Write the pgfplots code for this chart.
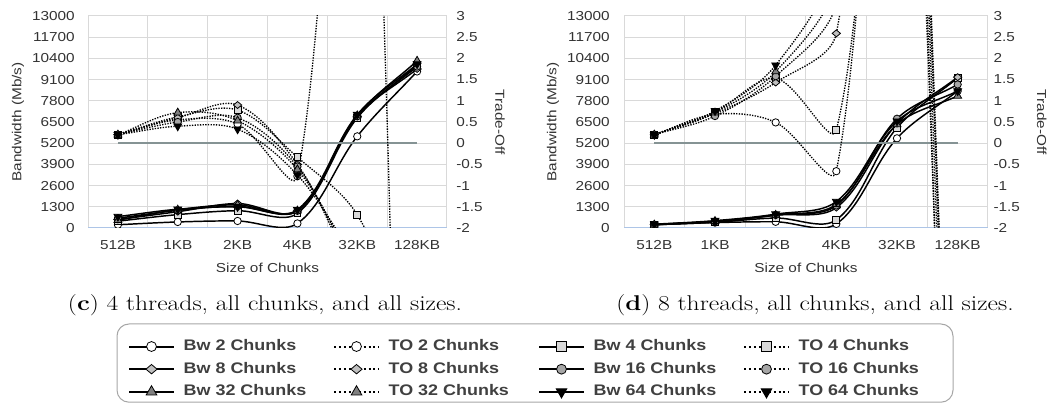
\documentclass[border=0pt]{standalone}
\usepackage{fontspec}
\usepackage{pgfplots}
\pgfplotsset{compat=1.18}
\setmainfont{Liberation Sans}
\newfontfamily\chartfont[FakeStretch=1.18]{Liberation Sans}
\newfontfamily\legfont[FakeStretch=1.17]{Liberation Sans}
\newfontfamily\capfont[FakeStretch=1.2]{Latin Modern Roman}

\definecolor{gridc}{HTML}{D9D9D9}
\definecolor{axblue}{HTML}{ADC5E7}
\definecolor{zeroc}{HTML}{859394}
\definecolor{txt}{HTML}{333333}
\definecolor{legc}{HTML}{404040}
\definecolor{framec}{HTML}{A6A6A6}
\definecolor{sqc}{HTML}{D9D9D9}
\definecolor{diac}{HTML}{BFBFBF}
\definecolor{circc}{HTML}{A6A6A6}
\definecolor{tric}{HTML}{808080}

% Excel-like smoothing plot handler
\makeatletter
\newcount\xls@n
\newcount\xls@i
\def\pgfplothandlerexcel{%
  \def\pgf@plotstreamstart{%
    \global\xls@n=0\relax
    \global\let\pgf@plotstreampoint\xls@point
    \global\let\pgf@plotstreamspecial\pgfutil@gobble
    \global\let\pgf@plotstreamend\xls@end
  }%
}
\def\xls@val#1#2{\csname xls@#1@\number#2\endcsname}
\def\xls@point#1{%
  \pgf@process{#1}%
  \global\advance\xls@n by 1\relax
  \expandafter\xdef\csname xls@x@\the\xls@n\endcsname{\pgf@sys@tonumber\pgf@x}%
  \expandafter\xdef\csname xls@y@\the\xls@n\endcsname{\pgf@sys@tonumber\pgf@y}%
}
\def\xls@end{%
  \ifnum\xls@n>0\relax
    \pgfpathmoveto{\pgfqpoint{\xls@val{x}{1}pt}{\xls@val{y}{1}pt}}%
    \xls@i=1\relax
    \xls@loop
  \fi
}
\def\xls@loop{%
  \ifnum\xls@i<\xls@n\relax
    \xls@segment
    \advance\xls@i by 1\relax
    \expandafter\xls@loop
  \fi
}
\def\xls@segment{%
  \count@=\xls@i \advance\count@ by -1\relax
  \ifnum\count@<1\relax \count@=1\relax\fi
  \edef\xls@A{\the\count@}%
  \edef\xls@B{\the\xls@i}%
  \count@=\xls@i \advance\count@ by 1\relax
  \edef\xls@C{\the\count@}%
  \advance\count@ by 1\relax
  \ifnum\count@>\xls@n \count@=\xls@n\fi
  \edef\xls@D{\the\count@}%
  \edef\xls@xa{\xls@val{x}{\xls@A}}\edef\xls@ya{\xls@val{y}{\xls@A}}%
  \edef\xls@xb{\xls@val{x}{\xls@B}}\edef\xls@yb{\xls@val{y}{\xls@B}}%
  \edef\xls@xc{\xls@val{x}{\xls@C}}\edef\xls@yc{\xls@val{y}{\xls@C}}%
  \edef\xls@xd{\xls@val{x}{\xls@D}}\edef\xls@yd{\xls@val{y}{\xls@D}}%
  \pgfmathparse{veclen(0.1*((\xls@xb)-(\xls@xa)),0.1*((\xls@yb)-(\xls@ya)))}\let\xls@dab\pgfmathresult
  \pgfmathparse{veclen(0.1*((\xls@xc)-(\xls@xb)),0.1*((\xls@yc)-(\xls@yb)))}\let\xls@dbc\pgfmathresult
  \pgfmathparse{veclen(0.1*((\xls@xd)-(\xls@xc)),0.1*((\xls@yd)-(\xls@yc)))}\let\xls@dcd\pgfmathresult
  \pgfmathparse{0.333333*\xls@dbc/(\xls@dab+\xls@dbc)}\let\xls@fa\pgfmathresult
  \pgfmathparse{0.333333*\xls@dbc/(\xls@dbc+\xls@dcd)}\let\xls@fb\pgfmathresult
  \pgfmathparse{(\xls@xb)+((\xls@xc)-(\xls@xa))*\xls@fa}\let\xls@cax\pgfmathresult
  \pgfmathparse{(\xls@yb)+((\xls@yc)-(\xls@ya))*\xls@fa}\let\xls@cay\pgfmathresult
  \pgfmathparse{(\xls@xc)-((\xls@xd)-(\xls@xb))*\xls@fb}\let\xls@cbx\pgfmathresult
  \pgfmathparse{(\xls@yc)-((\xls@yd)-(\xls@yb))*\xls@fb}\let\xls@cby\pgfmathresult
  \pgfpathcurveto{\pgfqpoint{\xls@cax pt}{\xls@cay pt}}{\pgfqpoint{\xls@cbx pt}{\xls@cby pt}}{\pgfqpoint{\xls@xc pt}{\xls@yc pt}}%
}
\tikzset{excel smooth/.code={\let\tikz@plot@handler=\pgfplothandlerexcel}}
\makeatother

\pgfplotsset{
  bw/.style={black, line width=1.1pt, solid, excel smooth},
  to/.style={black, line width=1pt, dash pattern=on 1pt off 1pt, excel smooth},
  bwl/.style={black, line width=1.5pt, solid},
  tol/.style={black, line width=1.5pt, dash pattern=on 1.5pt off 2.2pt},
  mk2/.style={mark=*, mark size=2.75pt, mark options={solid, fill=white, draw=black, line width=0.6pt}},
  mk4/.style={mark=square*, mark size=2.6pt, mark options={solid, fill=sqc, draw=black, line width=0.6pt}},
  mk8/.style={mark=diamond*, mark size=2.6pt, mark options={solid, fill=diac, draw=black, line width=0.6pt, xscale=1.6}},
  mk16/.style={mark=*, mark size=2.75pt, mark options={solid, fill=circc, draw=black, line width=0.6pt}},
  mk32/.style={mark=triangle*, mark size=3.4pt, mark options={solid, fill=tric, draw=black, line width=0.6pt}},
  mk64/.style={mark=triangle*, mark size=3.4pt, mark options={solid, fill=black, draw=black, line width=0.6pt, rotate=180}},
  chartbase/.style={scale only axis, height=159pt, xmin=0, xmax=6, anchor=south west,
     clip marker paths=true,
     tick label style={font=\chartfont\fontsize{9.75pt}{11pt}\selectfont, text=txt, inner sep=0pt},
     label style={font=\chartfont\fontsize{9.75pt}{11pt}\selectfont, text=txt, inner sep=0pt},
     major tick length=0pt, minor tick length=0pt},
  leftax/.style={chartbase, ymin=0, ymax=13000, scaled y ticks=false,
     xtick={0.5,1.5,2.5,3.5,4.5,5.5}, xticklabels={512B,1KB,2KB,4KB,32KB,128KB},
     minor xtick={0,1,2,3,4,5,6},
     ytick={0,1300,2600,3900,5200,6500,7800,9100,10400,11700,13000},
     yticklabels={0,1300,2600,3900,5200,6500,7800,9100,10400,11700,13000},
     xminorgrids=true, ymajorgrids=true, xmajorgrids=false,
     major grid style={draw=gridc, line width=0.75pt},
     minor grid style={draw=gridc, line width=0.75pt},
     axis x line*=bottom, axis y line*=left,
     x axis line style={draw=axblue, line width=0.75pt, -},
     y axis line style={draw=none},
     xticklabel style={anchor=north, yshift=-9pt},
     xlabel={Size of Chunks}, ylabel={Bandwidth (Mb/s)},
     xlabel style={at={(axis description cs:0.5,0)}, anchor=north, yshift=-26.25pt},
     ylabel style={at={(axis description cs:-0.195,0.5)}, anchor=center}},
  rightax/.style={chartbase, ymin=-2, ymax=3, axis x line=none, axis y line*=right,
     y axis line style={draw=none}, scaled y ticks=false,
     ytick={-2,-1.5,-1,-0.5,0,0.5,1,1.5,2,2.5,3},
     yticklabels={-2,-1.5,-1,-0.5,0,0.5,1,1.5,2,2.5,3},
     ylabel={Trade-Off},
     ylabel style={at={(axis description cs:1.148,0.5)}, anchor=center, rotate=180}},
}

\begin{document}
\begin{tikzpicture}
\useasboundingbox (0,0) rectangle (788.25pt,302.25pt);

% ---------------- (c) 4 threads ----------------
\begin{axis}[leftax, at={(66pt,131.25pt)}, width=269.25pt,
  yticklabel style={anchor=east, xshift=-9.75pt}]
\addplot[bw, mk2] coordinates {(0.5,200)(1.5,370)(2.5,430)(3.5,280)(4.5,5620)(5.5,9600)};
\addplot[bw, mk4] coordinates {(0.5,420)(1.5,820)(2.5,1060)(3.5,900)(4.5,6750)(5.5,10000)};
\addplot[bw, mk8] coordinates {(0.5,520)(1.5,1000)(2.5,1500)(3.5,1050)(4.5,6850)(5.5,9750)};
\addplot[bw, mk16] coordinates {(0.5,600)(1.5,1080)(2.5,1330)(3.5,1060)(4.5,6850)(5.5,9900)};
\addplot[bw, mk32] coordinates {(0.5,480)(1.5,1120)(2.5,1420)(3.5,1060)(4.5,6900)(5.5,10250)};
\addplot[bw, mk64] coordinates {(0.5,700)(1.5,1150)(2.5,1300)(3.5,1120)(4.5,6950)(5.5,10050)};
\end{axis}
\begin{axis}[rightax, at={(66pt,131.25pt)}, width=269.25pt,
  yticklabel style={anchor=west, xshift=6.75pt}]
\addplot[zeroc, line width=1.5pt, sharp plot, no marks] coordinates {(0.5,0)(1.5,0)(2.5,0)(3.5,0)(4.5,0)(5.5,0)};
\addplot[to, mk2] coordinates {(0.5,0.2)(1.5,0.55)(2.5,0.45)(3.5,-0.78)(4.5,15)(5.5,-25)};
\addplot[to, mk4] coordinates {(0.5,0.2)(1.5,0.62)(2.5,0.78)(3.5,-0.33)(4.5,-1.69)(5.5,-5)};
\addplot[to, mk8] coordinates {(0.5,0.2)(1.5,0.6)(2.5,0.9)(3.5,-0.5)(4.5,-3.0)(5.5,-4)};
\addplot[to, mk16] coordinates {(0.5,0.2)(1.5,0.5)(2.5,0.6)(3.5,-0.55)(4.5,-2.9)(5.5,-4)};
\addplot[to, mk32] coordinates {(0.5,0.2)(1.5,0.72)(2.5,0.53)(3.5,-0.62)(4.5,-2.8)(5.5,-4)};
\addplot[to, mk64] coordinates {(0.5,0.2)(1.5,0.4)(2.5,0.33)(3.5,-0.75)(4.5,-2.7)(5.5,-4)};
\end{axis}

% ---------------- (d) 8 threads ----------------
\begin{axis}[leftax, at={(468pt,131.25pt)}, width=273pt,
  yticklabel style={anchor=east, xshift=-10.5pt}]
\addplot[bw, mk2] coordinates {(0.5,200)(1.5,330)(2.5,380)(3.5,250)(4.5,5500)(5.5,8400)};
\addplot[bw, mk4] coordinates {(0.5,200)(1.5,350)(2.5,610)(3.5,500)(4.5,6150)(5.5,9200)};
\addplot[bw, mk8] coordinates {(0.5,220)(1.5,400)(2.5,780)(3.5,1250)(4.5,6400)(5.5,9250)};
\addplot[bw, mk16] coordinates {(0.5,200)(1.5,400)(2.5,800)(3.5,1380)(4.5,6700)(5.5,8800)};
\addplot[bw, mk32] coordinates {(0.5,200)(1.5,420)(2.5,800)(3.5,1450)(4.5,6350)(5.5,8100)};
\addplot[bw, mk64] coordinates {(0.5,230)(1.5,450)(2.5,850)(3.5,1620)(4.5,6550)(5.5,8400)};
\end{axis}
\begin{axis}[rightax, at={(468pt,131.25pt)}, width=273pt,
  yticklabel style={anchor=west, xshift=4pt}]
\addplot[zeroc, line width=1.5pt, sharp plot, no marks] coordinates {(0.5,0)(1.5,0)(2.5,0)(3.5,0)(4.5,0)(5.5,0)};
\addplot[to, mk2] coordinates {(0.5,0.2)(1.5,0.68)(2.5,0.49)(3.5,-0.66)(4.5,15)(5.5,-15)};
\addplot[to, mk4] coordinates {(0.5,0.2)(1.5,0.74)(2.5,1.53)(3.5,0.31)(4.5,13)(5.5,-16)};
\addplot[to, mk8] coordinates {(0.5,0.2)(1.5,0.70)(2.5,1.43)(3.5,2.59)(4.5,16)(5.5,-13)};
\addplot[to, mk16] coordinates {(0.5,0.2)(1.5,0.64)(2.5,1.58)(3.5,3.3)(4.5,15)(5.5,-18)};
\addplot[to, mk32] coordinates {(0.5,0.2)(1.5,0.72)(2.5,1.69)(3.5,3.8)(4.5,14)(5.5,-12)};
\addplot[to, mk64] coordinates {(0.5,0.2)(1.5,0.76)(2.5,1.84)(3.5,4.4)(4.5,17)(5.5,-15)};
\end{axis}

% ---------------- legend ----------------
\begin{axis}[at={(0pt,0pt)}, anchor=south west, scale only axis, width=788.25pt, height=302.25pt,
  hide axis, xmin=0, xmax=1, ymin=0, ymax=1,
  legend columns=4, legend cell align=left,
  legend style={at={(0.1218,0.160)}, anchor=north west, draw=none, fill=none,
    inner sep=0pt, outer sep=0pt,
    font=\legfont\bfseries\fontsize{11.5pt}{13pt}\selectfont, text=legc,
    nodes={inner sep=0pt, text height=9pt, text depth=3pt},
    row sep=5pt, column sep=0pt,
    /tikz/every odd column/.append style={column sep=6.5pt},
    /tikz/every even column/.append style={column sep=5.5pt}},
  legend image code/.code={\draw[mark repeat=2, mark phase=2, #1] plot coordinates {(0pt,0pt) (16.875pt,0pt) (33.75pt,0pt)};},
]
\addlegendimage{bwl, mk2, every mark/.append style={scale=1.35}}
\addlegendentry{\makebox[106.5pt][l]{Bw 2 Chunks}}
\addlegendimage{tol, mk2, every mark/.append style={scale=1.35}}
\addlegendentry{\makebox[106.5pt][l]{TO 2 Chunks}}
\addlegendimage{bwl, mk4, every mark/.append style={scale=1.35}}
\addlegendentry{\makebox[106.5pt][l]{Bw 4 Chunks}}
\addlegendimage{tol, mk4, every mark/.append style={scale=1.35}}
\addlegendentry{\makebox[106.5pt][l]{TO 4 Chunks}}
\addlegendimage{bwl, mk8, every mark/.append style={scale=1.35}}
\addlegendentry{\makebox[106.5pt][l]{Bw 8 Chunks}}
\addlegendimage{tol, mk8, every mark/.append style={scale=1.35}}
\addlegendentry{\makebox[106.5pt][l]{TO 8 Chunks}}
\addlegendimage{bwl, mk16, every mark/.append style={scale=1.35}}
\addlegendentry{\makebox[106.5pt][l]{Bw 16 Chunks}}
\addlegendimage{tol, mk16, every mark/.append style={scale=1.35}}
\addlegendentry{\makebox[106.5pt][l]{TO 16 Chunks}}
\addlegendimage{bwl, mk32, every mark/.append style={scale=1.35}}
\addlegendentry{\makebox[106.5pt][l]{Bw 32 Chunks}}
\addlegendimage{tol, mk32, every mark/.append style={scale=1.35}}
\addlegendentry{\makebox[106.5pt][l]{TO 32 Chunks}}
\addlegendimage{bwl, mk64, every mark/.append style={scale=1.35}}
\addlegendentry{\makebox[106.5pt][l]{Bw 64 Chunks}}
\addlegendimage{tol, mk64, every mark/.append style={scale=1.35}}
\addlegendentry{\makebox[106.5pt][l]{TO 64 Chunks}}
\end{axis}

\draw[framec, line width=0.75pt, rounded corners=9pt] (87.75pt,0.6pt) rectangle (714.75pt,59.25pt);

\node[font=\capfont\fontsize{16pt}{19pt}\selectfont, anchor=center, inner sep=0pt] at (198.75pt,73.5pt)
  {(\textbf{c}) 4 threads, all chunks, and all sizes.};
\node[font=\capfont\fontsize{16pt}{19pt}\selectfont, anchor=center, inner sep=0pt] at (611.25pt,73.5pt)
  {(\textbf{d}) 8 threads, all chunks, and all sizes.};
\end{tikzpicture}
\end{document}
